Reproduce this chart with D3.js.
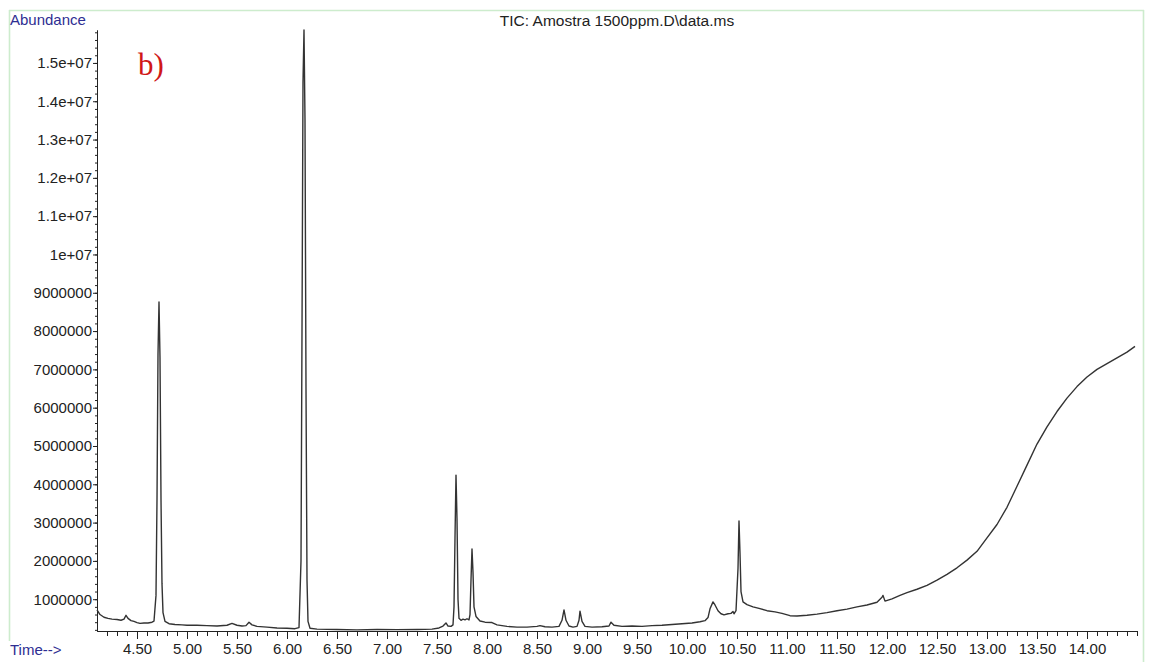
<!DOCTYPE html>
<html>
<head>
<meta charset="utf-8">
<script src="https://cdn.jsdelivr.net/npm/d3@7"></script>
<style>
html,body{margin:0;padding:0;background:#fff;}
svg{display:block;}
</style>
</head>
<body>
<svg id="chart" width="1150" height="662"></svg>
<script>
// ---- data ----
const retentionTimes = [
 4.10,4.13,4.17,4.21,4.25,4.30,4.34,4.37,4.39,4.41,4.44,4.47,4.50,4.53,4.57,4.61,4.65,4.67,
 4.69,4.70,4.71,4.72,4.73,4.74,4.75,4.76,4.78,4.82,4.88,4.95,5.00,5.10,5.20,5.30,5.40,5.45,
 5.50,5.55,5.59,5.62,5.65,5.70,5.80,5.90,6.00,6.08,6.12,6.14,6.15,6.16,6.17,6.18,6.19,6.20,
 6.21,6.23,6.30,6.50,6.70,6.90,7.10,7.30,7.45,7.52,7.56,7.59,7.61,7.64,7.66,7.67,7.68,7.69,
 7.70,7.71,7.72,7.74,7.76,7.78,7.80,7.82,7.83,7.84,7.85,7.86,7.87,7.89,7.93,7.98,8.05,8.10,
 8.20,8.30,8.40,8.50,8.53,8.58,8.65,8.72,8.75,8.77,8.79,8.82,8.86,8.90,8.92,8.93,8.95,8.98,
 9.05,9.15,9.22,9.24,9.27,9.35,9.45,9.55,9.65,9.75,9.85,9.95,10.05,10.13,10.18,10.21,10.23,
 10.26,10.28,10.31,10.34,10.37,10.41,10.44,10.46,10.47,10.49,10.51,10.52,10.53,10.54,10.56,
 10.60,10.66,10.72,10.80,10.88,10.95,11.03,11.10,11.20,11.30,11.40,11.50,11.60,11.70,11.80,
 11.90,11.95,11.96,11.98,12.05,12.13,12.20,12.30,12.40,12.50,12.60,12.70,12.80,12.90,13.00,
 13.10,13.20,13.30,13.40,13.50,13.60,13.70,13.80,13.90,14.00,14.10,14.20,14.30,
 14.40,14.48
];
const abundance = [
 720000,600000,530000,500000,480000,470000,450000,480000,580000,500000,440000,420000,390000,370000,380000,380000,400000,430000,
 1100000,3600000,7400000,8760000,7300000,3600000,1400000,650000,420000,360000,340000,330000,320000,320000,310000,300000,320000,370000,
 320000,300000,310000,400000,330000,290000,270000,250000,240000,230000,260000,2000000,8000000,14500000,15860000,13500000,6500000,1500000,
 420000,240000,220000,210000,200000,210000,205000,210000,220000,250000,300000,380000,300000,290000,330000,800000,2600000,4240000,
 3100000,1000000,500000,450000,480000,460000,490000,460000,600000,1500000,2310000,1700000,800000,550000,430000,400000,390000,330000,
 290000,270000,270000,290000,310000,280000,270000,290000,450000,720000,450000,300000,270000,290000,450000,690000,420000,290000,
 270000,280000,300000,400000,320000,290000,300000,290000,310000,320000,340000,360000,380000,410000,440000,520000,750000,
 930000,850000,700000,620000,590000,620000,630000,680000,620000,700000,1800000,3040000,2200000,1200000,930000,
 860000,800000,760000,700000,670000,630000,570000,560000,580000,610000,650000,700000,740000,800000,850000,
 920000,1050000,1100000,950000,1010000,1100000,1170000,1260000,1360000,1500000,1650000,1820000,2020000,2250000,2600000,
 2950000,3400000,3950000,4500000,5050000,5500000,5900000,6250000,6550000,6800000,7000000,7150000,7300000,
 7450000,7600000
];
const xMajorTicks = [4.5,5.0,5.5,6.0,6.5,7.0,7.5,8.0,8.5,9.0,9.5,10.0,10.5,11.0,11.5,12.0,12.5,13.0,13.5,14.0];
const xTickLabels = ["4.50","5.00","5.50","6.00","6.50","7.00","7.50","8.00","8.50","9.00","9.50","10.00","10.50","11.00","11.50","12.00","12.50","13.00","13.50","14.00"];
const yMajorTicks = [1000000,2000000,3000000,4000000,5000000,6000000,7000000,8000000,9000000,10000000,11000000,12000000,13000000,14000000,15000000];
const yTickLabels = ["1000000","2000000","3000000","4000000","5000000","6000000","7000000","8000000","9000000","1e+07","1.1e+07","1.2e+07","1.3e+07","1.4e+07","1.5e+07"];
const titleText = "TIC: Amostra 1500ppm.D\\data.ms";
const panelLabel = "b)";

// ---- drawing ----
const svg = d3.select("#chart");
const font = "'Liberation Sans', Arial, Helvetica, sans-serif";
const blue = "#2e2e92";

// frame
const frame = svg.append("g").attr("stroke", "#cdeccd").attr("stroke-width", 1.6).attr("fill", "none");
frame.append("line").attr("x1", 9).attr("x2", 1144).attr("y1", 10.5).attr("y2", 10.5);
frame.append("line").attr("x1", 9.5).attr("x2", 9.5).attr("y1", 10).attr("y2", 641);
frame.append("line").attr("x1", 1143.5).attr("x2", 1143.5).attr("y1", 10).attr("y2", 662);

const x = d3.scaleLinear().domain([4.1, 14.5]).range([97, 1137]);
const y = d3.scaleLinear().domain([170000, 15860000]).range([631, 30]);

// x axis minor
const xMinor = d3.range(42, 146).map(d => d / 10);
svg.append("g").attr("transform", "translate(0,631)")
  .call(d3.axisBottom(x).tickValues(xMinor).tickSize(5).tickSizeOuter(0).tickFormat(""))
  .call(g => g.selectAll("line,path").attr("stroke", "#222"));
svg.append("g").attr("transform", "translate(0,631)")
  .call(d3.axisBottom(x).tickValues(xMajorTicks).tickSize(8).tickSizeOuter(0).tickPadding(4)
        .tickFormat((d, i) => xTickLabels[i]))
  .call(g => g.selectAll("line,path").attr("stroke", "#222"))
  .call(g => g.selectAll("text").attr("font-family", font).attr("font-size", 15).attr("fill", "#222"));

// y axis
const yMinor = d3.range(1, 80).map(d => d * 200000).filter(v => v >= 170000 && v <= 15860000);
svg.append("g").attr("transform", "translate(97,0)")
  .call(d3.axisLeft(y).tickValues(yMinor).tickSize(2).tickSizeOuter(0).tickFormat(""))
  .call(g => g.selectAll("line,path").attr("stroke", "#222"));
svg.append("g").attr("transform", "translate(97,0)")
  .call(d3.axisLeft(y).tickValues(yMajorTicks).tickSize(4).tickSizeOuter(0).tickPadding(1)
        .tickFormat((d, i) => yTickLabels[i]))
  .call(g => g.selectAll("line,path").attr("stroke", "#222"))
  .call(g => g.selectAll("text").attr("font-family", font).attr("font-size", 15).attr("fill", "#222"));

// trace
const pts = retentionTimes.map((t, i) => [t, abundance[i]]);
svg.append("path")
  .datum(pts)
  .attr("fill", "none")
  .attr("stroke", "#333")
  .attr("stroke-width", 1.4)
  .attr("stroke-linejoin", "round")
  .attr("d", d3.line().x(d => x(d[0])).y(d => y(d[1])));

// texts
svg.append("text").attr("x", 10).attr("y", 25).attr("font-family", font).attr("font-size", 15)
  .attr("fill", blue).text("Abundance");
svg.append("text").attr("x", 10).attr("y", 655).attr("font-family", font).attr("font-size", 15)
  .attr("fill", blue).text("Time-->");
svg.append("text").attr("x", 617).attr("y", 26).attr("text-anchor", "middle").attr("font-family", font)
  .attr("font-size", 15.5).attr("fill", "#222").text(titleText);
svg.append("text").attr("x", 138).attr("y", 75).attr("font-family", "'Liberation Serif', 'Times New Roman', serif")
  .attr("font-size", 31).attr("fill", "#d01818").text(panelLabel);
</script>
</body>
</html>
